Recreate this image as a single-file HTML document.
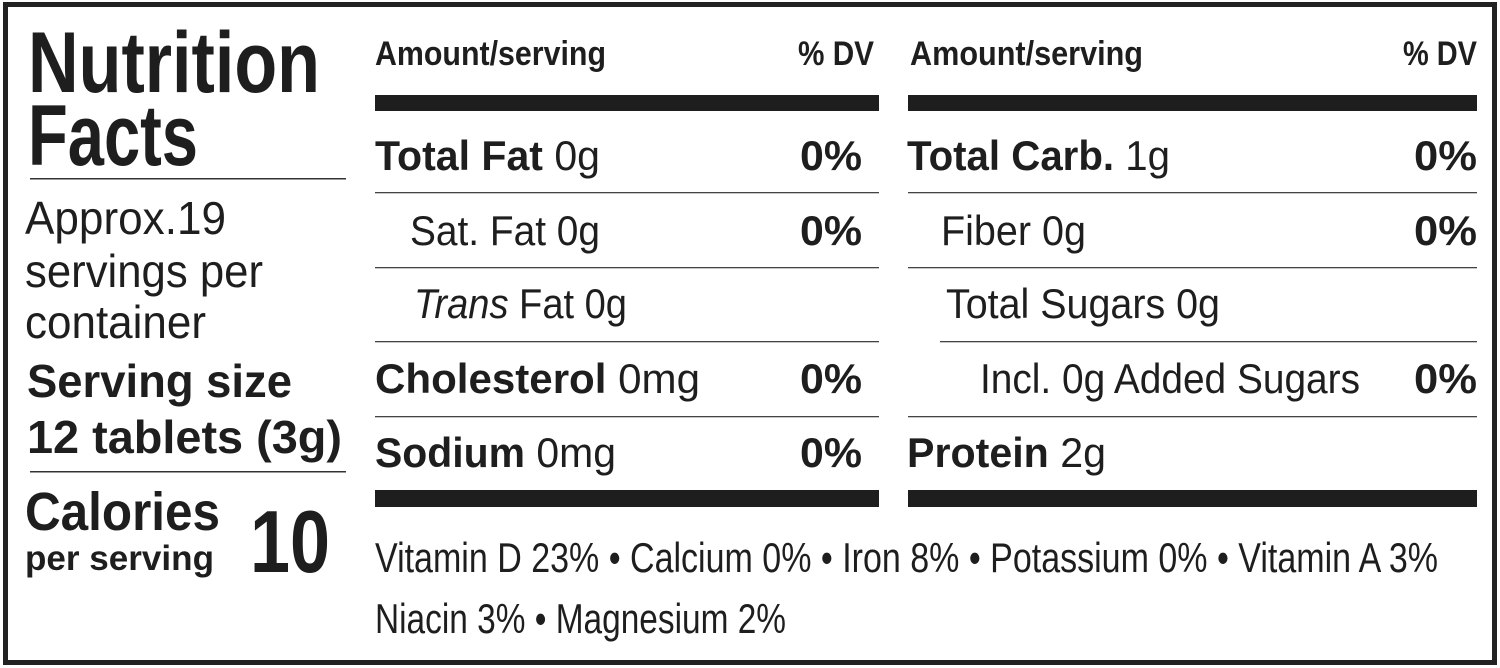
<!DOCTYPE html>
<html><head><meta charset="utf-8"><style>
html,body{margin:0;padding:0;background:#fff;}
svg{display:block;}
text{font-family:"Liberation Sans",sans-serif;fill:#1e1e1e;}
.b{font-weight:bold;}
.r{font-weight:normal;}
</style></head><body>
<svg width="1500" height="668" viewBox="0 0 1500 668" xmlns="http://www.w3.org/2000/svg">
<rect x="5.5" y="4.5" width="1489" height="658" fill="#fff" stroke="#222" stroke-width="5"/>
<text class="b" x="28" y="92" font-size="86" textLength="292" lengthAdjust="spacingAndGlyphs">Nutrition</text>
<text class="b" x="28" y="165" font-size="86" textLength="170" lengthAdjust="spacingAndGlyphs">Facts</text>
<rect x="30" y="178" width="316" height="1.5" fill="#333"/>
<text class="r" x="25" y="234" font-size="46" textLength="201" lengthAdjust="spacingAndGlyphs">Approx.19</text>
<text class="r" x="25" y="287" font-size="46" textLength="238" lengthAdjust="spacingAndGlyphs">servings per</text>
<text class="r" x="25" y="338" font-size="46" textLength="181" lengthAdjust="spacingAndGlyphs">container</text>
<text class="b" x="27" y="397" font-size="46" textLength="265" lengthAdjust="spacingAndGlyphs">Serving size</text>
<text class="b" x="27" y="453" font-size="46" textLength="315" lengthAdjust="spacingAndGlyphs">12 tablets (3g)</text>
<rect x="30" y="471" width="316" height="1.5" fill="#333"/>
<text class="b" x="25" y="530" font-size="54" textLength="195" lengthAdjust="spacingAndGlyphs">Calories</text>
<text class="b" x="25" y="570" font-size="35" textLength="189" lengthAdjust="spacingAndGlyphs">per serving</text>
<text class="b" x="250" y="572" font-size="88" textLength="80" lengthAdjust="spacingAndGlyphs">10</text>
<text class="b" x="375" y="65" font-size="34" textLength="231" lengthAdjust="spacingAndGlyphs">Amount/serving</text>
<text class="b" x="798" y="65" font-size="34" textLength="76" lengthAdjust="spacingAndGlyphs">% DV</text>
<text class="b" x="910" y="65" font-size="34" textLength="233" lengthAdjust="spacingAndGlyphs">Amount/serving</text>
<text class="b" x="1403" y="65" font-size="34" textLength="74" lengthAdjust="spacingAndGlyphs">% DV</text>
<rect x="375" y="95" width="504" height="16" fill="#1e1e1e"/>
<rect x="908" y="95" width="569" height="16" fill="#1e1e1e"/>
<text x="375" y="170" font-size="42" textLength="225" lengthAdjust="spacingAndGlyphs"><tspan class="b">Total Fat</tspan><tspan class="r"> 0g</tspan></text>
<text class="b" x="800" y="170" font-size="42" textLength="62" lengthAdjust="spacingAndGlyphs">0%</text>
<rect x="375" y="192" width="504" height="1.3" fill="#444"/>
<text class="r" x="410" y="245" font-size="42" textLength="190" lengthAdjust="spacingAndGlyphs">Sat. Fat 0g</text>
<text class="b" x="800" y="245" font-size="42" textLength="62" lengthAdjust="spacingAndGlyphs">0%</text>
<rect x="375" y="267" width="504" height="1.3" fill="#444"/>
<text class="r" x="414" y="318" font-size="42" textLength="213" lengthAdjust="spacingAndGlyphs"><tspan font-style="italic">Trans</tspan> Fat 0g</text>
<rect x="375" y="341" width="504" height="1.3" fill="#444"/>
<text x="375" y="393" font-size="42" textLength="325" lengthAdjust="spacingAndGlyphs"><tspan class="b">Cholesterol</tspan><tspan class="r"> 0mg</tspan></text>
<text class="b" x="800" y="393" font-size="42" textLength="62" lengthAdjust="spacingAndGlyphs">0%</text>
<rect x="375" y="416" width="504" height="1.3" fill="#444"/>
<text x="375" y="467" font-size="42" textLength="241" lengthAdjust="spacingAndGlyphs"><tspan class="b">Sodium</tspan><tspan class="r"> 0mg</tspan></text>
<text class="b" x="800" y="467" font-size="42" textLength="62" lengthAdjust="spacingAndGlyphs">0%</text>
<text x="907" y="170" font-size="42" textLength="263" lengthAdjust="spacingAndGlyphs"><tspan class="b">Total Carb.</tspan><tspan class="r"> 1g</tspan></text>
<text class="b" x="1414" y="170" font-size="42" textLength="63" lengthAdjust="spacingAndGlyphs">0%</text>
<rect x="908" y="192" width="569" height="1.3" fill="#444"/>
<text class="r" x="941" y="245" font-size="42" textLength="145" lengthAdjust="spacingAndGlyphs">Fiber 0g</text>
<text class="b" x="1414" y="245" font-size="42" textLength="63" lengthAdjust="spacingAndGlyphs">0%</text>
<rect x="908" y="267" width="569" height="1.3" fill="#444"/>
<text class="r" x="946" y="318" font-size="42" textLength="274" lengthAdjust="spacingAndGlyphs">Total Sugars 0g</text>
<rect x="940" y="341" width="537" height="1.3" fill="#444"/>
<text class="r" x="980" y="393" font-size="42" textLength="380" lengthAdjust="spacingAndGlyphs">Incl. 0g Added Sugars</text>
<text class="b" x="1414" y="393" font-size="42" textLength="63" lengthAdjust="spacingAndGlyphs">0%</text>
<rect x="908" y="416" width="569" height="1.3" fill="#444"/>
<text x="907" y="467" font-size="42" textLength="199" lengthAdjust="spacingAndGlyphs"><tspan class="b">Protein</tspan><tspan class="r"> 2g</tspan></text>
<rect x="375" y="490" width="504" height="17" fill="#1e1e1e"/>
<rect x="908" y="490" width="569" height="17" fill="#1e1e1e"/>
<text class="r" x="375" y="572" font-size="42" textLength="1063" lengthAdjust="spacingAndGlyphs">Vitamin D 23% • Calcium 0% • Iron 8% • Potassium 0% • Vitamin A 3%</text>
<text class="r" x="375" y="633" font-size="42" textLength="411" lengthAdjust="spacingAndGlyphs">Niacin 3% • Magnesium 2%</text>
</svg>
</body></html>
